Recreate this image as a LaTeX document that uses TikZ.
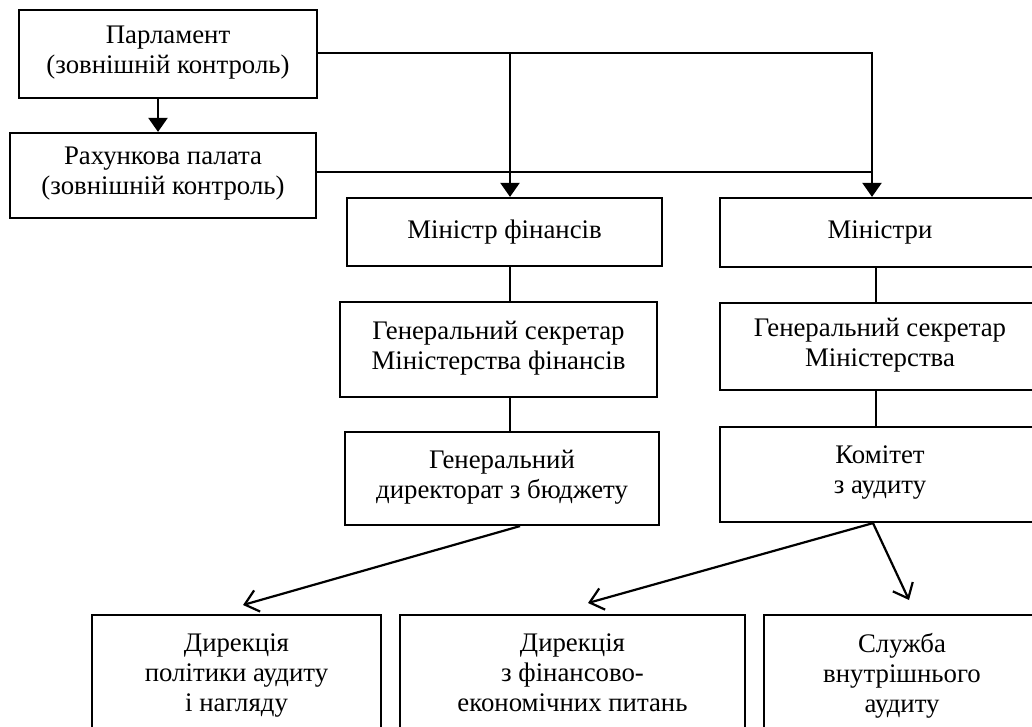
\documentclass[tikz,border=0pt]{standalone}
\usepackage{fontspec}
\setmainfont{Liberation Serif}
\usetikzlibrary{arrows.meta}

\begin{document}
\begin{tikzpicture}[x=0.5pt,y=-0.5pt,
  box/.style={draw, line width=1.1pt, align=center, inner sep=0pt, font=\fontsize{13.4}{15}\selectfont,
    execute at begin node=\strut, execute at end node=\strut},
  link/.style={line width=1.1pt},
  solid arrow/.style={link, -{Triangle[length=7pt,width=9.5pt]}},
  open arrow/.style={link, -{Straight Barb[length=6.5pt,width=11pt]}}]
\useasboundingbox (0,0) rectangle (1032,727);
\clip (0,0) rectangle (1032,727);

\node[box, minimum width=149pt, minimum height=44pt] (parl) at (168,54) {Парламент\\(зовнішній контроль)};
\node[box, minimum width=153pt, minimum height=42.5pt] (rp) at (163,175.5) {Рахункова палата\\(зовнішній контроль)};

\node[box, minimum width=157.5pt, minimum height=34pt] (mf) at (504.5,232) {Міністр фінансів};
\node[box, minimum width=158.5pt, minimum height=47.5pt] (gsf) at (498.5,349.5) {Генеральний секретар\\Міністерства фінансів};
\node[box, minimum width=157pt, minimum height=46.5pt] (gd) at (502,478.5) {Генеральний\\директорат з бюджету};

\node[box, minimum width=160pt, minimum height=34.5pt] (min) at (880,232.5) {Міністри};
\node[box, minimum width=160pt, minimum height=43.5pt] (gsm) at (880,346.5) {Генеральний секретар\\Міністерства};
\node[box, minimum width=160pt, minimum height=47.5pt] (kom) at (880,474.5) {Комітет\\з аудиту};

\node[box, minimum width=144.5pt, minimum height=62.5pt] (dpa) at (236.5,677.5) {Дирекція\\політики аудиту\\і нагляду};
\node[box, minimum width=172.5pt, minimum height=62.5pt] (dfe) at (572.5,677.5) {Дирекція\\з фінансово-\\економічних питань};
\node[box, minimum width=138pt, minimum height=62.5pt] (sva) at (902,677.5) {Служба\\внутрішнього\\аудиту};

% points where the lines turn
\coordinate (a1) at (158,0);
\coordinate (jf) at (510,53);
\coordinate (jm) at (872,53);
\coordinate (jr) at (0,172);
\coordinate (km) at (876,0);
\coordinate (s1) at (520,0);
\coordinate (k1) at (873,0);
\coordinate (e1) at (243,605);
\coordinate (e2) at (588,603);
\coordinate (e3) at (909,600);

\draw[solid arrow] (parl.south -| a1) -- (rp.north -| a1);
\draw[solid arrow] (parl.east |- jf) -| (min.north -| jm);
\draw[solid arrow] (jf) -- (mf.north -| jf);
\draw[link] (rp.east |- jr) -- (jm |- jr);

\draw[link] (mf.south -| jf) -- (gsf.north -| jf);
\draw[link] (gsf.south -| jf) -- (gd.north -| jf);

\draw[link] (min.south -| km) -- (gsm.north -| km);
\draw[link] (gsm.south -| km) -- (kom.north -| km);

\draw[open arrow] (gd.south -| s1) -- (e1);
\draw[open arrow] (kom.south -| k1) -- (e2);
\draw[open arrow] (kom.south -| k1) -- (e3);

\end{tikzpicture}
\end{document}
